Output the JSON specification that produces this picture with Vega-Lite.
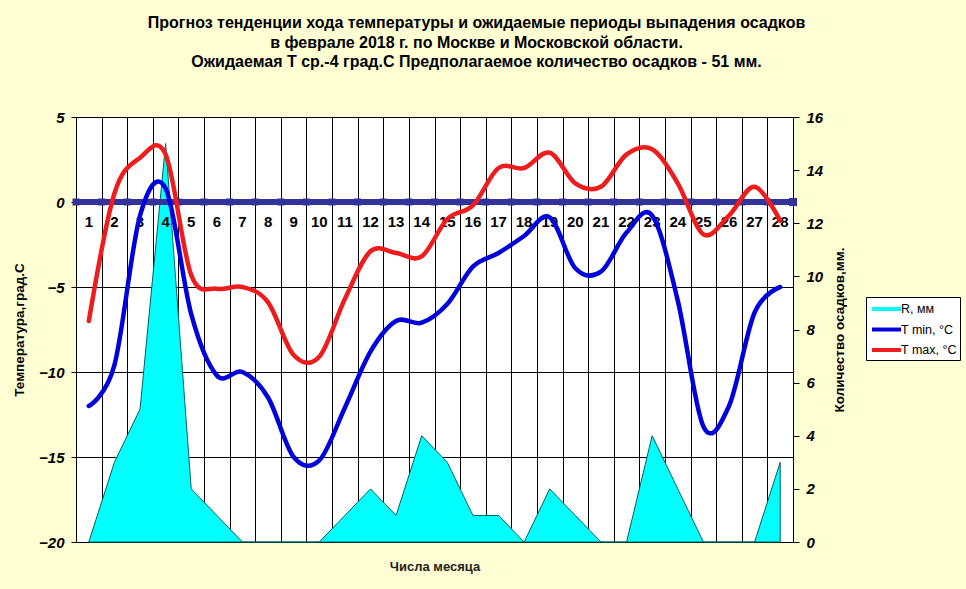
{
  "$schema": "https://vega.github.io/schema/vega-lite/v6.json",
  "width": 717,
  "height": 425,
  "autosize": {"type": "none"},
  "padding": {"left": 76, "top": 117, "right": 173, "bottom": 47},
  "background": "#FFFFD4",
  "config": {
    "view": {"fill": "white", "stroke": "black", "strokeWidth": 1},
    "font": "Liberation Sans"
  },
  "title": {
    "text": [
      "Прогноз тенденции хода температуры и  ожидаемые периоды выпадения осадков",
      "в феврале 2018 г. по Москве и Московской области.",
      "Ожидаемая  Т ср.-4 град.С Предполагаемое количество осадков - 51 мм."
    ],
    "anchor": "middle",
    "frame": "bounds",
    "font": "Liberation Sans",
    "fontSize": 16,
    "fontWeight": "bold",
    "color": "black",
    "lineHeight": 19.5,
    "offset": 40,
    "dx": -10
  },
  "data": {
    "values": [
      {"day": 1, "tmin": -12.0, "tmax": -7.0, "r": 0},
      {"day": 2, "tmin": -9.6, "tmax": 0.5, "r": 3},
      {"day": 3, "tmin": -0.8, "tmax": 2.6, "r": 5},
      {"day": 4, "tmin": 0.8, "tmax": 2.8, "r": 15},
      {"day": 5, "tmin": -6.6, "tmax": -4.3, "r": 2},
      {"day": 6, "tmin": -10.2, "tmax": -5.1, "r": 1},
      {"day": 7, "tmin": -10.0, "tmax": -5.0, "r": 0},
      {"day": 8, "tmin": -11.5, "tmax": -5.9, "r": 0},
      {"day": 9, "tmin": -15.0, "tmax": -9.0, "r": 0},
      {"day": 10, "tmin": -15.2, "tmax": -9.1, "r": 0},
      {"day": 11, "tmin": -12.1, "tmax": -5.7, "r": 1},
      {"day": 12, "tmin": -8.8, "tmax": -2.9, "r": 2},
      {"day": 13, "tmin": -7.0, "tmax": -3.0, "r": 1},
      {"day": 14, "tmin": -7.1, "tmax": -3.2, "r": 4},
      {"day": 15, "tmin": -6.0, "tmax": -1.0, "r": 3},
      {"day": 16, "tmin": -3.8, "tmax": -0.2, "r": 1},
      {"day": 17, "tmin": -3.0, "tmax": 2.0, "r": 1},
      {"day": 18, "tmin": -2.0, "tmax": 2.0, "r": 0},
      {"day": 19, "tmin": -0.9, "tmax": 2.9, "r": 2},
      {"day": 20, "tmin": -3.9, "tmax": 1.1, "r": 1},
      {"day": 21, "tmin": -4.1, "tmax": 0.9, "r": 0},
      {"day": 22, "tmin": -1.8, "tmax": 2.8, "r": 0},
      {"day": 23, "tmin": -0.8, "tmax": 3.1, "r": 4},
      {"day": 24, "tmin": -5.8, "tmax": 1.1, "r": 2},
      {"day": 25, "tmin": -13.2, "tmax": -1.9, "r": 0},
      {"day": 26, "tmin": -12.0, "tmax": -0.8, "r": 0},
      {"day": 27, "tmin": -6.5, "tmax": 0.9, "r": 0},
      {"day": 28, "tmin": -5.0, "tmax": -1.1, "r": 3}
    ]
  },
  "layer": [
    {
      "mark": {"type": "area", "stroke": "#006060", "strokeWidth": 1, "opacity": 1},
      "encoding": {
        "x": {
          "field": "day", "type": "ordinal", "bandPosition": 0.5,
          "scale": {"type": "band", "paddingInner": 0, "paddingOuter": 0},
          "axis": {
            "orient": "bottom", "tickBand": "extent", "grid": true, "gridColor": "black",
            "gridOpacity": 1, "gridWidth": 1, "labels": false, "ticks": false, "domain": false,
            "title": "Числа месяца", "titleFont": "Liberation Sans", "titleFontSize": 13,
            "titleFontWeight": "bold", "titleColor": "#222222", "titlePadding": 18
          }
        },
        "y": {
          "field": "r", "type": "quantitative",
          "scale": {"domain": [0, 16], "nice": false},
          "axis": {
            "orient": "right", "values": [0, 2, 4, 6, 8, 10, 12, 14, 16], "grid": false,
            "domain": true, "domainColor": "black", "ticks": true, "tickColor": "black", "tickSize": 6,
            "labelPadding": 7, "labelFont": "Liberation Sans", "labelFontSize": 15,
            "labelFontWeight": "bold", "labelFontStyle": "italic", "labelColor": "black",
            "title": "Количество  осадков,мм.", "titleAngle": 270, "titleFont": "Liberation Sans",
            "titleFontSize": 13.5, "titleFontWeight": "bold", "titleColor": "black", "titlePadding": 24
          }
        },
        "color": {
          "datum": "R, мм",
          "scale": {
            "domain": ["R, мм", "T min, °C", "T max, °C"],
            "range": ["#00FFFF", "#0000DD", "#EE1C1C"]
          },
          "legend": {
            "orient": "none", "legendX": 790, "legendY": 180, "title": null,
            "padding": 3, "fillColor": "white", "strokeColor": "black",
            "symbolType": "M-0.67,-0.22H2.56V0.22H-0.67Z",
            "symbolSize": 324, "symbolStrokeWidth": 0, "symbolOpacity": 1, "rowPadding": 4.5,
            "labelFont": "Liberation Sans", "labelFontSize": 12.5, "labelColor": "black",
            "labelOffset": 14, "labelLimit": 200,
            "values": ["R, мм", "T min, °C", "T max, °C"]
          }
        }
      }
    },
    {
      "layer": [
        {
          "mark": {"type": "rule", "color": "#333399", "strokeWidth": 5},
          "encoding": {"y": {"datum": 0, "type": "quantitative"}}
        },
        {
          "mark": {"type": "point", "shape": "square", "filled": true, "size": 49, "color": "#333399", "opacity": 1},
          "encoding": {
            "x": {"field": "day", "type": "ordinal", "bandPosition": 0},
            "y": {"datum": 0, "type": "quantitative"}
          }
        },
        {
          "mark": {"type": "point", "shape": "square", "filled": true, "size": 49, "color": "#333399", "opacity": 1},
          "encoding": {
            "x": {"datum": 28, "type": "ordinal", "bandPosition": 1},
            "y": {"datum": 0, "type": "quantitative"}
          }
        },
        {
          "mark": {"type": "text", "dy": 20, "font": "Liberation Sans", "fontSize": 15, "fontWeight": "bold", "color": "black", "baseline": "middle"},
          "encoding": {
            "x": {"field": "day", "type": "ordinal", "bandPosition": 0.5},
            "y": {"datum": 0, "type": "quantitative"},
            "text": {"field": "day", "type": "ordinal"}
          }
        },
        {
          "mark": {"type": "line", "interpolate": "cardinal", "strokeWidth": 4.5, "strokeCap": "round"},
          "encoding": {
            "x": {"field": "day", "type": "ordinal", "bandPosition": 0.5},
            "y": {
              "field": "tmin", "type": "quantitative",
              "scale": {"domain": [-20, 5], "nice": false},
              "axis": {
                "orient": "left", "values": [-20, -15, -10, -5, 0, 5], "grid": true,
                "gridColor": "black", "gridOpacity": 1, "gridWidth": 1,
                "domain": true, "domainColor": "black", "ticks": true, "tickColor": "black", "tickSize": 5,
                "labelPadding": 7, "labelFont": "Liberation Sans", "labelFontSize": 15,
                "labelFontWeight": "bold", "labelFontStyle": "italic", "labelColor": "black",
                "title": "Температура,град.С", "titleFont": "Liberation Sans", "titleFontSize": 13.5,
                "titleFontWeight": "bold", "titleColor": "black", "titlePadding": 12
              }
            },
            "color": {"datum": "T min, °C"}
          }
        },
        {
          "mark": {"type": "line", "interpolate": "cardinal", "strokeWidth": 4.5, "strokeCap": "round"},
          "encoding": {
            "x": {"field": "day", "type": "ordinal", "bandPosition": 0.5},
            "y": {"field": "tmax", "type": "quantitative", "title": "Температура,град.С"},
            "color": {"datum": "T max, °C"}
          }
        }
      ]
    }
  ],
  "resolve": {"scale": {"y": "independent"}, "axis": {"y": "independent"}}
}
